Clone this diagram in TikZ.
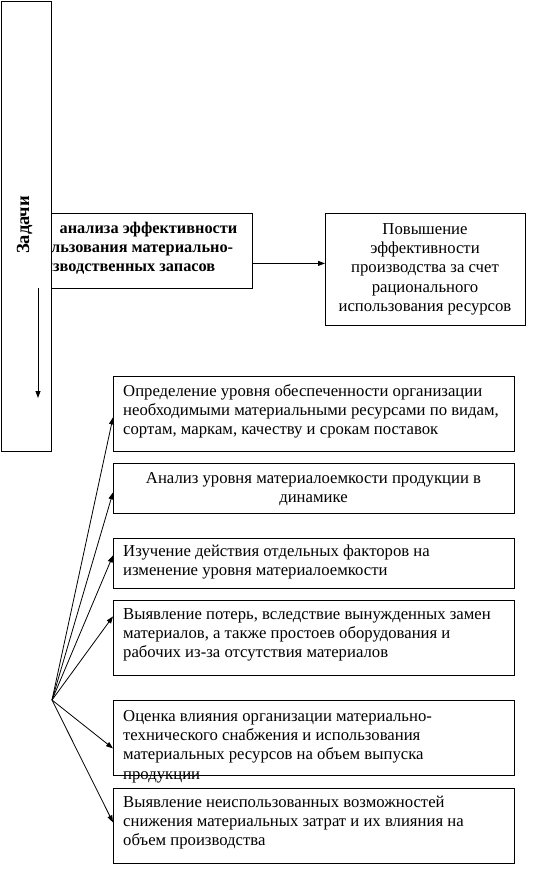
\documentclass[tikz,border=0pt]{standalone}
\usepackage{fontspec}
\setmainfont{Liberation Serif}
\usetikzlibrary{arrows.meta}
\begin{document}
\begin{tikzpicture}[x=1pt,y=-1pt,
  box/.style={draw, line width=0.8pt, inner sep=0pt, anchor=north west},
  txt/.style={inner sep=0pt, anchor=north west, align=left, font=\fontsize{16.7}{19.4}\selectfont},
  ctxt/.style={inner sep=0pt, anchor=north, align=center, font=\fontsize{16.7}{19.4}\selectfont},
  btxt/.style={inner sep=0pt, align=left, font=\fontsize{16.3}{19.2}\selectfont\bfseries},
  arr/.style={line width=0.8pt, -{Triangle[length=7pt,width=5pt]}}]
\useasboundingbox (0,0) rectangle (539,876);
% middle box
\node[box, minimum width=201pt, minimum height=75pt] (mid) at (51,213) {};
\begin{scope}
\clip (51,0) rectangle (539,876);
\node[btxt, anchor=north east] (midtexta) at (237.5,219.6) {\strut анализа эффективности};
\node[btxt, anchor=north west] (midtextb) at (17,238.8) {\strut использования материально-\\производственных запасов};
\end{scope}
% left tall box
\node[box, minimum width=50pt, minimum height=450pt] (left) at (1,1) {};
\node[rotate=90, inner sep=0pt, font=\fontsize{18.5}{20}\selectfont\bfseries] (zad) at (24.5,225) {Задачи};
\coordinate (la) at (38,288);
\coordinate (lb) at (38,398);
\draw[arr] (la) -- (lb);
% right box
\node[box, minimum width=200pt, minimum height=112pt] (right) at (325,213) {};
\node[ctxt] (righttext) at (425,220.4) {\strut Повышение\\эффективности\\производства за счет\\рационального\\использования ресурсов};
\draw[arr] ([yshift=-12.5pt]mid.east) -- ([yshift=-12.5pt]mid.east -| right.west);
% lower boxes
\node[box, minimum width=401pt, minimum height=75pt] (b1) at (113,376) {};
\node[txt] (t1) at (123,382.4) {\strut Определение уровня обеспеченности организации\\необходимыми материальными ресурсами по видам,\\сортам, маркам, качеству и срокам поставок};
\node[box, minimum width=401pt, minimum height=50pt] (b2) at (113,463) {};
\node[ctxt] (t2) at (313.5,469.4) {\strut Анализ уровня материалоемкости продукции в\\динамике};
\node[box, minimum width=401pt, minimum height=50pt] (b3) at (113,538) {};
\node[txt] (t3) at (123,542.4) {\strut Изучение действия отдельных факторов на\\изменение уровня материалоемкости};
\node[box, minimum width=401pt, minimum height=75pt] (b4) at (113,600) {};
\node[txt] (t4) at (123,605.4) {\strut Выявление потерь, вследствие вынужденных замен\\материалов, а также простоев оборудования и\\рабочих из-за отсутствия материалов};
\node[box, minimum width=401pt, minimum height=75pt] (b5) at (113,700) {};
\node[txt] (t5) at (123,707.4) {\strut Оценка влияния организации материально-\\технического снабжения и использования\\материальных ресурсов на объем выпуска\\продукции};
\node[box, minimum width=401pt, minimum height=75pt] (b6) at (113,788) {};
\node[txt] (t6) at (123,793.4) {\strut Выявление неиспользованных возможностей\\снижения материальных затрат и их влияния на\\объем производства};
% fan
\coordinate (fan) at (52,700);
\draw[arr] (fan) -- ([yshift=-3.5pt]b1.west);
\draw[arr] (fan) -- ([yshift=-4pt]b2.west);
\draw[arr] (fan) -- ([yshift=8pt]b3.west);
\draw[arr] (fan) -- ([yshift=21.5pt]b4.west);
\draw[arr] (fan) -- ([yshift=-10.5pt]b5.west);
\draw[arr] (fan) -- ([yshift=3.5pt]b6.west);
\end{tikzpicture}
\end{document}
